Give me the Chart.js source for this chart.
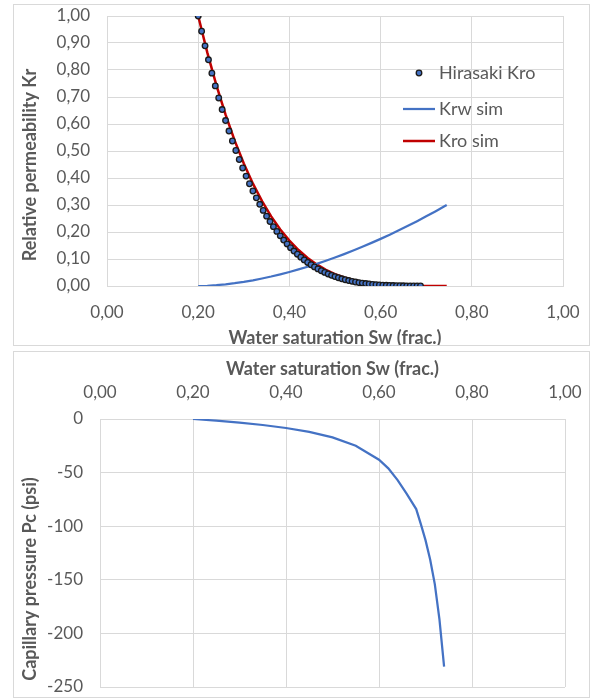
<!DOCTYPE html>
<html>
<head>
<meta charset="utf-8">
<script src="https://cdn.jsdelivr.net/npm/chart.js@4.4.1/dist/chart.umd.min.js"></script>
<style>
  html, body { margin: 0; padding: 0; background: #fff; }
  body { width: 593px; height: 699px; position: relative; overflow: hidden; }
  .frame { position: absolute; left: 13px; width: 575px; border: 1px solid #d9d9d9; background: #fff; }
  #krFrame { top: 4px; height: 340px; }
  #pcFrame { top: 351px; height: 345px; }
  canvas { display: block; }
</style>
</head>
<body>
<div class="frame" id="krFrame"><canvas id="krChart" width="575" height="340"></canvas></div>
<div class="frame" id="pcFrame"><canvas id="pcChart" width="575" height="345"></canvas></div>
<script>
// Hirasaki oil relative permeability points
var swHirasaki = [
  0.2000, 0.2075, 0.2150, 0.2225, 0.2300, 0.2375, 0.2450, 0.2525, 0.2600, 0.2675,
  0.2750, 0.2825, 0.2900, 0.2975, 0.3050, 0.3125, 0.3200, 0.3275, 0.3350, 0.3425,
  0.3500, 0.3575, 0.3650, 0.3725, 0.3800, 0.3875, 0.3950, 0.4025, 0.4100, 0.4175,
  0.4250, 0.4325, 0.4400, 0.4475, 0.4550, 0.4625, 0.4700, 0.4775, 0.4850, 0.4925,
  0.5000, 0.5075, 0.5150, 0.5225, 0.5300, 0.5375, 0.5450, 0.5525, 0.5600, 0.5675,
  0.5750, 0.5825, 0.5900, 0.5975, 0.6050, 0.6125, 0.6200, 0.6275, 0.6350, 0.6425,
  0.6500, 0.6575, 0.6650, 0.6725, 0.6800, 0.6875
];
var kroHirasaki = [
  1.0000, 0.9435, 0.8894, 0.8377, 0.7883, 0.7412, 0.6963, 0.6535, 0.6127, 0.5739,
  0.5370, 0.5019, 0.4686, 0.4370, 0.4071, 0.3787, 0.3519, 0.3265, 0.3026, 0.2800,
  0.2587, 0.2387, 0.2199, 0.2022, 0.1857, 0.1702, 0.1557, 0.1421, 0.1295, 0.1178,
  0.1069, 0.0967, 0.0873, 0.0787, 0.0707, 0.0633, 0.0565, 0.0503, 0.0447, 0.0395,
  0.0348, 0.0305, 0.0267, 0.0232, 0.0201, 0.0173, 0.0148, 0.0126, 0.0107, 0.0090,
  0.0075, 0.0062, 0.0051, 0.0041, 0.0033, 0.0026, 0.0021, 0.0016, 0.0012, 0.0009,
  0.0007, 0.0005, 0.0003, 0.0002, 0.0001, 0.0001
];

// simulator relperm table
var swSim = [
  0.20, 0.22, 0.24, 0.26, 0.28, 0.30, 0.32, 0.34, 0.36, 0.38,
  0.40, 0.42, 0.44, 0.46, 0.48, 0.50, 0.52, 0.54, 0.56, 0.58,
  0.60, 0.62, 0.64, 0.66, 0.68, 0.70, 0.72, 0.74, 0.745
];
var krwSim = [
  0.0000, 0.0009, 0.0031, 0.0063, 0.0104, 0.0154, 0.0212, 0.0278, 0.0351, 0.0432,
  0.0519, 0.0613, 0.0714, 0.0822, 0.0935, 0.1055, 0.1182, 0.1314, 0.1452, 0.1596,
  0.1746, 0.1901, 0.2063, 0.2230, 0.2402, 0.2580, 0.2763, 0.2952, 0.3000
];
var kroSim = [
  1.0000, 0.8643, 0.7428, 0.6345, 0.5384, 0.4536, 0.3791, 0.3142, 0.2579, 0.2094,
  0.1681, 0.1332, 0.1040, 0.0798, 0.0601, 0.0442, 0.0317, 0.0221, 0.0148, 0.0095,
  0.0057, 0.0032, 0.0016, 0.0007, 0.0003, 0.0001, 0.0000, 0.0000, 0.0000
];

// capillary pressure table
var swPc = [0.20, 0.25, 0.30, 0.35, 0.40, 0.45, 0.50, 0.55, 0.60, 0.62,
            0.64, 0.66, 0.68, 0.69, 0.70, 0.71, 0.72, 0.73, 0.74];
var pcSim = [0, -1.6, -3.4, -5.6, -8.4, -12.0, -17.2, -25.0, -38.0, -46.0,
             -57.0, -70.0, -84.0, -98.0, -113.0, -131.0, -154.0, -187.0, -231.0];

var textColor = "#595959";
var gridColor = "#d9d9d9";
var tickFont = { family: "Lato", size: 17 };
var titleFont = { family: "Lato", size: 18, weight: "bold", lineHeight: 1 };

Chart.defaults.font.family = "Lato";
Chart.defaults.color = textColor;

function toPoints(xs, ys) {
  return xs.map(function (x, i) { return { x: x, y: ys[i] }; });
}

function commaFixed(v) {
  return Number(v).toFixed(2).replace(".", ",");
}

// fixed axis sizes so the plot areas sit where the frames expect them
function fixHeight(h) {
  return function (scale) {
    scale.height = h;
    scale.paddingLeft = 0;
    scale.paddingRight = 0;
  };
}
function fixWidth(w) {
  return function (scale) {
    scale.width = w;
    scale.paddingTop = 0;
    scale.paddingBottom = 0;
  };
}

// rotated y-axis title
var sideTitle = {
  id: "sideTitle",
  afterDraw: function (chart, args, opts) {
    var ctx = chart.ctx;
    ctx.save();
    ctx.translate(opts.x, opts.y);
    ctx.rotate(-Math.PI / 2);
    ctx.font = "bold 18px Lato";
    ctx.fillStyle = textColor;
    ctx.textAlign = "center";
    ctx.textBaseline = "middle";
    ctx.fillText(opts.text, 0, 0);
    ctx.restore();
  }
};

// legend drawn inside the plot, right side
var insideLegend = {
  id: "insideLegend",
  afterDatasetsDraw: function (chart, args, opts) {
    var ctx = chart.ctx;
    var area = chart.chartArea;
    ctx.save();
    ctx.font = "18px Lato";
    ctx.textBaseline = "middle";
    chart.data.datasets.forEach(function (ds, i) {
      var x = area.left + opts.left;
      var y = area.top + opts.rows[i];
      if (ds.showLine) {
        ctx.strokeStyle = ds.borderColor;
        ctx.lineWidth = ds.borderWidth;
        ctx.beginPath();
        ctx.moveTo(x, y);
        ctx.lineTo(x + 32, y);
        ctx.stroke();
      } else {
        ctx.fillStyle = ds.pointBackgroundColor;
        ctx.strokeStyle = ds.pointBorderColor;
        ctx.lineWidth = ds.pointBorderWidth;
        ctx.beginPath();
        ctx.arc(x + 16, y, ds.pointRadius, 0, Math.PI * 2);
        ctx.fill();
        ctx.stroke();
      }
      ctx.fillStyle = textColor;
      ctx.fillText(ds.label, x + 36, y);
    });
    ctx.restore();
  }
};

var krChart = new Chart(document.getElementById("krChart"), {
  type: "scatter",
  data: {
    datasets: [{
      label: "Hirasaki Kro",
      data: toPoints(swHirasaki, kroHirasaki),
      showLine: false,
      pointRadius: 2.8,
      pointBorderWidth: 1.3,
      pointBackgroundColor: "#4472c4",
      pointBorderColor: "#1a1a1a"
    }, {
      label: "Krw sim",
      data: toPoints(swSim, krwSim),
      showLine: true,
      borderColor: "#4472c4",
      borderWidth: 2.25,
      pointRadius: 0
    }, {
      label: "Kro sim",
      data: toPoints(swSim, kroSim),
      showLine: true,
      borderColor: "#c00000",
      borderWidth: 2.5,
      pointRadius: 0
    }]
  },
  options: {
    responsive: false,
    animation: false,
    events: [],
    layout: { padding: { top: 11, right: 26, bottom: 0, left: 0 } },
    plugins: {
      legend: { display: false },
      tooltip: { enabled: false },
      sideTitle: { text: "Relative permeability Kr", x: 16, y: 160 },
      insideLegend: { left: 296, rows: [57, 93, 125] }
    },
    scales: {
      x: {
        type: "linear",
        min: 0,
        max: 1,
        ticks: { stepSize: 0.2, padding: 16, font: tickFont, color: textColor, callback: commaFixed },
        grid: { color: gridColor, drawTicks: false },
        border: { color: gridColor },
        title: { display: true, text: "Water saturation Sw (frac.)", font: titleFont, color: textColor, padding: { top: 0, bottom: -2 } },
        afterFit: fixHeight(59)
      },
      y: {
        min: 0,
        max: 1,
        ticks: { stepSize: 0.1, padding: 17, font: tickFont, color: textColor, callback: commaFixed },
        grid: { color: gridColor, drawTicks: false },
        border: { color: gridColor },
        afterFit: fixWidth(93)
      }
    }
  },
  plugins: [sideTitle, insideLegend]
});

var pcChart = new Chart(document.getElementById("pcChart"), {
  type: "scatter",
  data: {
    datasets: [{
      label: "Pc sim",
      data: toPoints(swPc, pcSim),
      showLine: true,
      borderColor: "#4472c4",
      borderWidth: 2.25,
      pointRadius: 0
    }]
  },
  options: {
    responsive: false,
    animation: false,
    events: [],
    layout: { padding: { top: 0, right: 24, bottom: 10, left: 0 } },
    plugins: {
      legend: { display: false },
      tooltip: { enabled: false },
      sideTitle: { text: "Capillary pressure Pc (psi)", x: 16, y: 227 }
    },
    scales: {
      x: {
        type: "linear",
        position: "top",
        min: 0,
        max: 1,
        ticks: { stepSize: 0.2, padding: 16, font: tickFont, color: textColor, callback: commaFixed },
        grid: { color: gridColor, drawTicks: false },
        border: { color: gridColor },
        title: { display: true, text: "Water saturation Sw (frac.)", font: titleFont, color: textColor, padding: { top: 8, bottom: 0 } },
        afterFit: fixHeight(67)
      },
      y: {
        min: -250,
        max: 0,
        ticks: { stepSize: 50, padding: 17, font: tickFont, color: textColor, callback: function (v) { return String(v); } },
        grid: { color: gridColor, drawTicks: false },
        border: { color: gridColor },
        afterFit: fixWidth(86)
      }
    }
  },
  plugins: [sideTitle]
});
</script>
</body>
</html>
